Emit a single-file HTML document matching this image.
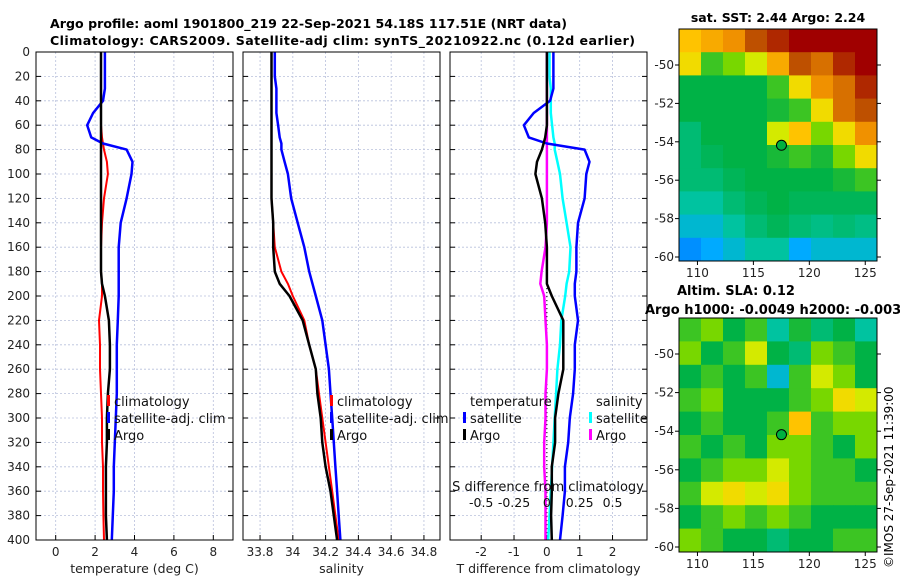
<!DOCTYPE html>
<html><head><meta charset="utf-8"><style>
body{margin:0;background:#fff;}
svg{display:block;font-family:"DejaVu Sans","Liberation Sans",sans-serif;}
</style></head><body>
<svg id="chart" width="900" height="580" viewBox="0 0 900 580" xmlns="http://www.w3.org/2000/svg">
<text x="50" y="28" font-size="12.6" font-weight="bold" textLength="517">Argo profile: aoml 1901800_219 22-Sep-2021 54.18S 117.51E (NRT data)</text>
<text x="50" y="45" font-size="12.6" font-weight="bold" textLength="585">Climatology: CARS2009. Satellite-adj clim: synTS_20210922.nc (0.12d earlier)</text>
<text x="778" y="22" font-size="12.5" font-weight="bold" text-anchor="middle">sat. SST: 2.44 Argo: 2.24</text>
<text x="677" y="295" font-size="13" font-weight="bold">Altim. SLA: 0.12</text>
<text x="645" y="314" font-size="13" font-weight="bold">Argo h1000: -0.0049 h2000: -0.003</text>
<text transform="translate(893,568) rotate(-90)" font-size="12">©IMOS 27-Sep-2021 11:39:00</text>
<g id="g"></g>
</svg>
<script>
const depths=[0,10,20,30,40,50,60,70,75,80,90,100,120,140,160,180,190,200,220,240,260,280,300,320,340,360,380,400];
const tClim=[2.3,2.3,2.3,2.3,2.3,2.3,2.3,2.35,2.4,2.45,2.6,2.65,2.45,2.35,2.3,2.3,2.35,2.35,2.2,2.25,2.25,2.3,2.35,2.35,2.4,2.4,2.42,2.45];
const tSat=[2.5,2.5,2.5,2.5,2.4,1.9,1.6,1.8,2.4,3.6,3.9,3.85,3.6,3.3,3.2,3.2,3.2,3.2,3.15,3.1,3.1,3.1,3.05,3.0,2.95,2.95,2.9,2.85];
const tArgo=[2.3,2.3,2.3,2.3,2.3,2.3,2.3,2.3,2.3,2.3,2.3,2.3,2.3,2.3,2.3,2.3,2.35,2.5,2.7,2.75,2.75,2.65,2.6,2.6,2.55,2.55,2.55,2.6];
const sClim=[33.87,33.87,33.87,33.87,33.87,33.87,33.87,33.87,33.87,33.87,33.87,33.87,33.87,33.88,33.89,33.93,33.97,34.0,34.07,34.1,34.14,34.16,34.18,34.2,34.22,34.24,34.26,34.28];
const sSat=[33.89,33.89,33.89,33.9,33.9,33.9,33.91,33.92,33.93,33.93,33.95,33.97,33.99,34.03,34.07,34.1,34.12,34.14,34.18,34.2,34.22,34.23,34.24,34.25,34.26,34.27,34.28,34.29];
const sArgo=[33.87,33.87,33.87,33.87,33.87,33.87,33.87,33.87,33.87,33.87,33.87,33.87,33.87,33.88,33.88,33.89,33.92,33.98,34.06,34.1,34.14,34.15,34.17,34.18,34.2,34.23,34.25,34.27];
const depthTicks=[0,20,40,60,80,100,120,140,160,180,200,220,240,260,280,300,320,340,360,380,400];
const tTicks=[0,2,4,6,8];
const sTicks=[33.8,34,34.2,34.4,34.6,34.8];
const dTicks=[-2,-1,0,1,2];
const sdTicks=[-0.5,-0.25,0,0.25,0.5];
const lonTicks=[110,115,120,125];
const latTicks=[-50,-52,-54,-56,-58,-60];
const sstGrid=[
[0.65,0.7,0.75,0.85,0.9,0.95,0.95,0.95,0.95],
[0.6,0.45,0.5,0.55,0.7,0.85,0.8,0.9,0.95],
[0.4,0.4,0.4,0.4,0.45,0.6,0.75,0.8,0.9],
[0.4,0.4,0.4,0.4,0.42,0.45,0.6,0.8,0.85],
[0.35,0.4,0.4,0.4,0.55,0.65,0.5,0.6,0.75],
[0.35,0.38,0.4,0.4,0.42,0.45,0.42,0.5,0.6],
[0.35,0.35,0.38,0.4,0.4,0.4,0.4,0.42,0.45],
[0.3,0.3,0.35,0.38,0.4,0.38,0.38,0.38,0.38],
[0.25,0.25,0.3,0.35,0.38,0.35,0.33,0.35,0.33],
[0.15,0.2,0.25,0.3,0.3,0.2,0.25,0.25,0.25]];
const slaGrid=[
[0.45,0.5,0.4,0.45,0.3,0.42,0.35,0.4,0.3],
[0.5,0.4,0.45,0.55,0.4,0.35,0.5,0.45,0.4],
[0.4,0.45,0.4,0.45,0.25,0.45,0.55,0.5,0.4],
[0.45,0.5,0.4,0.4,0.4,0.45,0.5,0.6,0.55],
[0.4,0.45,0.4,0.4,0.45,0.65,0.45,0.5,0.5],
[0.45,0.4,0.45,0.4,0.5,0.5,0.45,0.4,0.5],
[0.4,0.45,0.5,0.5,0.55,0.5,0.45,0.45,0.4],
[0.45,0.55,0.6,0.55,0.6,0.5,0.45,0.45,0.45],
[0.4,0.45,0.5,0.45,0.5,0.45,0.4,0.4,0.4],
[0.5,0.45,0.4,0.4,0.35,0.4,0.4,0.45,0.45]];
const argoLon=117.51, argoLat=-54.18;

const NS="http://www.w3.org/2000/svg";
const G=document.getElementById('g');
function mk(tag,attrs,parent){const e=document.createElementNS(NS,tag);for(const k in attrs)e.setAttribute(k,attrs[k]);(parent||G).appendChild(e);return e;}
const PT=52,PB=540;
const yD=d=>PT+(d-0)/(400-0)*(PB-PT);
function lin(d0,d1,p0,p1){return v=>p0+(v-d0)/(d1-d0)*(p1-p0);}
const panels=[
 {x0:36,x1:233,f:lin(-1,9,36,233),ticks:tTicks,label:'temperature (deg C)',name:'temperature-panel'},
 {x0:243,x1:440,f:lin(33.696,34.898,243,440),ticks:sTicks,label:'salinity',name:'salinity-panel'},
 {x0:450,x1:647,f:lin(-2.95,3.05,450,647),ticks:dTicks,label:'T difference from climatology',name:'difference-panel'}];
function line(xs,ys,fx,color,w,name,parent){
 const d=xs.map((v,i)=>(i?'L':'M')+fx(v).toFixed(1)+' '+yD(ys[i]).toFixed(1)).join('');
 const p=mk('path',{d:d,fill:'none',stroke:color,'stroke-width':w,'stroke-linejoin':'round'},parent);
 
 
}
panels.forEach((P,pi)=>{
 const g=mk('g',{});
 
 
 depthTicks.forEach(d=>{mk('line',{x1:P.x0,x2:P.x1,y1:yD(d),y2:yD(d),stroke:'#b8c0dc','stroke-width':0.8,'stroke-dasharray':'2,2'},g);});
 P.ticks.forEach(t=>{const x=P.f(t);mk('line',{x1:x,x2:x,y1:PT,y2:PB,stroke:'#b8c0dc','stroke-width':0.8,'stroke-dasharray':'2,2'},g);
  mk('line',{x1:x,x2:x,y1:PB,y2:PB-5,stroke:'#000'},g);
  const tx=mk('text',{x:x,y:PB+16,'font-size':12,'text-anchor':'middle',fill:'#222'},g);tx.textContent=String(t);});
 depthTicks.forEach(d=>{mk('line',{x1:P.x0,x2:P.x0+5,y1:yD(d),y2:yD(d),stroke:'#000'},g);mk('line',{x1:P.x1,x2:P.x1-5,y1:yD(d),y2:yD(d),stroke:'#000'},g);
  if(pi==0){const tx=mk('text',{x:30,y:yD(d)+4,'font-size':12,'text-anchor':'end',fill:'#222'},g);tx.textContent=String(d);}});
 const xl=mk('text',{x:(P.x0+P.x1)/2,y:PB+33,'font-size':12.5,'text-anchor':'middle',fill:'#222'},g);xl.textContent=P.label;
 P.g=g;
});
line(tClim,depths,panels[0].f,'#ff0000',2,'temp-climatology-line',panels[0].g);
line(tSat,depths,panels[0].f,'#0000ff',2.5,'temp-satellite-line',panels[0].g);
line(tArgo,depths,panels[0].f,'#000',2.5,'temp-argo-line',panels[0].g);
line(sClim,depths,panels[1].f,'#ff0000',2,'sal-climatology-line',panels[1].g);
line(sSat,depths,panels[1].f,'#0000ff',2.5,'sal-satellite-line',panels[1].g);
line(sArgo,depths,panels[1].f,'#000',2.5,'sal-argo-line',panels[1].g);
const fd=panels[2].f;
mk('line',{x1:fd(0),x2:fd(0),y1:PT,y2:PB,stroke:'#000','stroke-width':1,'stroke-dasharray':'1,3'},panels[2].g);
const fsd=v=>fd(v*4);
line(sSat.map((v,i)=>v-sClim[i]),depths,fsd,'#00ffff',2.5,'sdiff-satellite-line',panels[2].g);
line(sArgo.map((v,i)=>v-sClim[i]),depths,fsd,'#ff00ff',2.5,'sdiff-argo-line',panels[2].g);
line(tSat.map((v,i)=>v-tClim[i]),depths,fd,'#0000ff',2.5,'tdiff-satellite-line',panels[2].g);
line(tArgo.map((v,i)=>v-tClim[i]),depths,fd,'#000',2.5,'tdiff-argo-line',panels[2].g);
sdTicks.forEach(t=>{const tx=mk('text',{x:fsd(t),y:507,'font-size':12.5,'text-anchor':'middle',fill:'#111'},panels[2].g);tx.textContent=String(t);});
const sl=mk('text',{x:548,y:491,'font-size':13,'text-anchor':'middle',fill:'#111'},panels[2].g);sl.textContent='S difference from climatology';
panels.forEach(P=>mk('rect',{x:P.x0,y:PT,width:P.x1-P.x0,height:PB-PT,fill:'none',stroke:'#000','stroke-width':1},P.g));
function legend(x,y,items,name){
 const g=mk('g',{});
 items.forEach((it,i)=>{if(it[0])mk('rect',{x:x,y:y+i*17-11,width:3,height:11,fill:it[0]},g);
  const t=mk('text',{x:x+(it[0]?7:0),y:y+i*17,'font-size':13,fill:'#111'},g);t.textContent=it[1];});
}
legend(107,406,[['#ff0000','climatology'],['#0000ff','satellite-adj. clim'],['#000','Argo']],'temp-legend');
legend(330,406,[['#ff0000','climatology'],['#0000ff','satellite-adj. clim'],['#000','Argo']],'sal-legend');
legend(463,406,[[null,'  '],['#0000ff','satellite'],['#000','Argo']],'tdiff-legend');
{const t=mk('text',{x:470,y:406,'font-size':13,fill:'#111'});t.textContent='temperature';}
legend(589,406,[[null,''],['#00ffff','satellite'],['#ff00ff','Argo']],'sdiff-legend');
{const t=mk('text',{x:596,y:406,'font-size':13,fill:'#111'});t.textContent='salinity';}
const stops=[[0,[0,60,255]],[0.2,[0,170,255]],[0.3,[0,195,160]],[0.4,[0,178,70]],[0.5,[120,215,0]],[0.56,[230,238,0]],[0.65,[255,195,0]],[0.75,[240,145,0]],[0.85,[190,80,0]],[0.95,[160,0,0]],[1,[150,0,0]]];
function cmap(v){for(let i=1;i<stops.length;i++){if(v<=stops[i][0]){const a=stops[i-1],b=stops[i],t=(v-a[0])/(b[0]-a[0]);return 'rgb('+a[1].map((c,j)=>Math.round(c+t*(b[1][j]-c))).join(',')+')';}}return 'rgb(150,0,0)';}
function drawMap(x0,x1,y0,y1,lat50y,lat60y,grid,name){
 const g=mk('g',{});
 const fx=lin(108.35,126.05,x0,x1), fy=lin(-50,-60,lat50y,lat60y);
 const latTop=-50+(y0-lat50y)/(lat60y-lat50y)*-10, latBot=-50+(y1-lat50y)/(lat60y-lat50y)*-10;
 const R=grid.length,C=grid[0].length;
 const lonStep=(126.05-108.35)/C, latStep=(latTop-latBot)/R;
 grid.forEach((row,r)=>row.forEach((v,c)=>{
  const xa=fx(108.35+c*lonStep),xb=fx(108.35+(c+1)*lonStep),ya=fy(latTop-r*latStep),yb=fy(latTop-(r+1)*latStep);
  const cell=mk('rect',{x:xa,y:ya,width:xb-xa+0.5,height:yb-ya+0.5,fill:cmap(v)},g);
  
  
 }));
 const m=mk('circle',{cx:fx(argoLon),cy:fy(argoLat),r:5,fill:'#00b040',stroke:'#000','stroke-width':1},g);
 
 
 mk('rect',{x:x0,y:y0,width:x1-x0,height:y1-y0,fill:'none',stroke:'#000','stroke-width':1},g);
 lonTicks.forEach(t=>{const x=fx(t);mk('line',{x1:x,x2:x,y1:y1,y2:y1+4,stroke:'#000'},g);const tx=mk('text',{x:x,y:y1+16,'font-size':12,'text-anchor':'middle',fill:'#222'},g);tx.textContent=String(t);});
 latTicks.forEach(t=>{const y=fy(t);mk('line',{x1:x0,x2:x0-4,y1:y,y2:y,stroke:'#000'},g);mk('line',{x1:x1,x2:x1+4,y1:y,y2:y,stroke:'#000'},g);const tx=mk('text',{x:x0-5,y:y+4,'font-size':12,'text-anchor':'end',fill:'#222'},g);tx.textContent=String(t);});
}
drawMap(679,877,29,261,65,257,sstGrid,'sst-map');
drawMap(679,877,318,552,354,547,slaGrid,'sla-map');
</script>
</body></html>
